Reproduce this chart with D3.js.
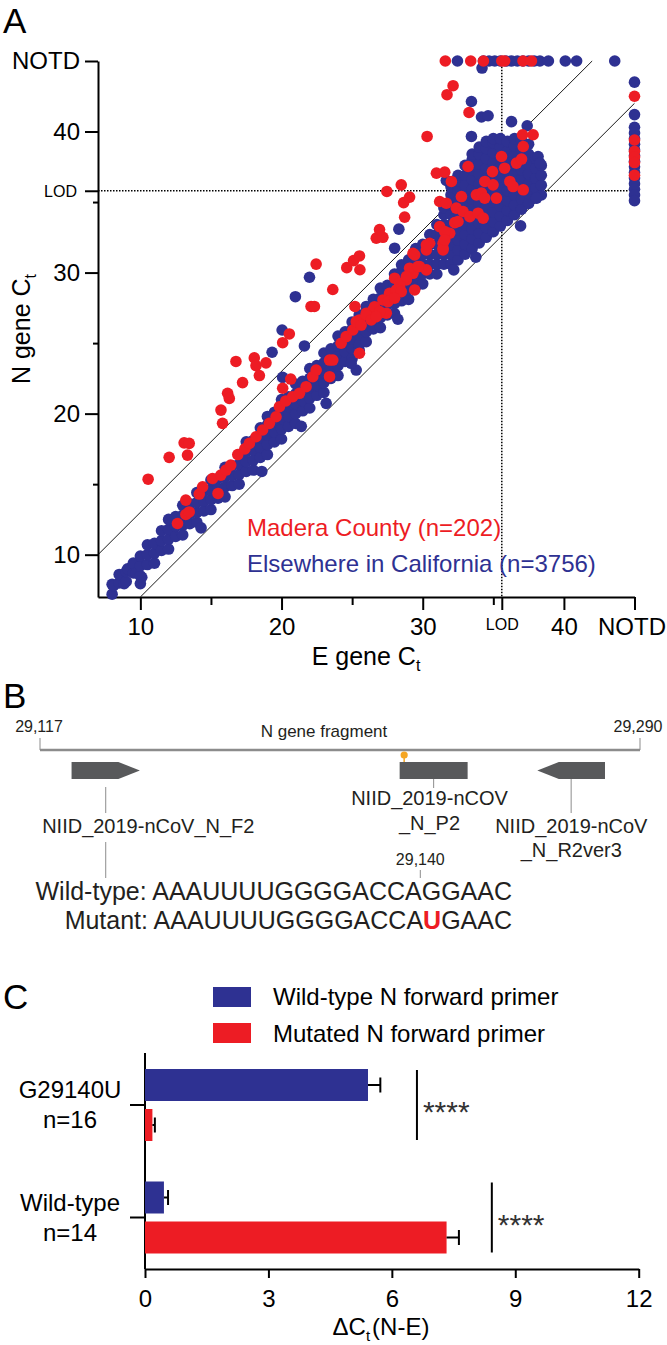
<!DOCTYPE html>
<html><head><meta charset="utf-8">
<script src="https://cdn.jsdelivr.net/npm/d3@7"></script>
<style>
html,body{margin:0;padding:0;background:#fff;}
svg{display:block;font-family:"Liberation Sans",Arial,Helvetica,sans-serif;}
</style></head><body>
<svg id="fig" width="667" height="1345"></svg>
<script>
// ---------------- Panel A data (E gene Ct, N gene Ct); null = not detected (NOTD) ----------------
const NOTD = 45;
const eLOD = 35.6, nLOD = 35.8;
const majorTicks = [10, 20, 30, 40];
const minorTicks = [15, 25, 35];
const diagonals = [[[7, 10], [42, 45]], [[10, 7], [45, 42]]];
const legendA = ["Madera County (n=202)", "Elsewhere in California (n=3756)"];

const elsewhere = [
[8.0,7.2],[8.0,7.9],[8.1,7.8],[8.5,8.0],[8.5,8.6],[8.85,7.95],[9.0,8.1],[9.0,8.8],[9.1,9.0],[9.5,8.7],[9.5,9.4],[9.7,8.7],
[10.0,7.95],[10.1,8.4],[10.0,8.5],[10.0,9.2],[10.0,9.9],
[10.5,9.3],[10.5,10.0],[10.5,10.7],
[11.0,9.4],[11.0,10.1],[11.0,10.8],
[11.5,10.3],[11.5,11.0],[11.5,11.7],
[12.0,10.4],[12.0,11.1],[12.0,11.8],[12.0,12.5],
[12.5,11.3],[12.5,12.0],[12.5,12.7],
[13.0,11.4],[13.0,12.1],[13.0,12.8],[13.0,13.5],
[13.5,12.2],[13.5,12.9],[13.5,13.6],
[14.0,12.3],[14.0,13.0],[14.0,13.7],[14.0,14.4],
[14.5,13.1],[14.5,13.8],[14.5,14.5],
[15.0,13.2],[15.0,13.9],[15.0,14.6],[15.0,15.3],
[15.5,14.0],[15.5,14.7],[15.5,15.4],
[16.0,14.1],[16.0,14.8],[16.0,15.5],[16.0,16.2],
[16.5,14.9],[16.5,15.6],[16.5,16.3],
[17.0,15.0],[17.0,15.7],[17.0,16.4],[17.0,17.1],
[17.5,15.9],[17.5,16.6],[17.5,17.3],[17.5,18.0],
[18.0,16.0],[18.0,16.7],[18.0,17.4],[18.0,18.1],
[18.5,16.9],[18.5,17.6],[18.5,18.3],[18.5,19.0],
[19.0,17.1],[19.0,17.8],[19.0,18.5],[19.0,19.2],[19.0,19.8],
[19.5,18.0],[19.5,18.7],[19.5,19.4],[19.5,20.1],
[20.0,18.2],[20.0,18.9],[20.0,19.6],[20.0,20.3],[20.0,21.0],
[20.5,19.1],[20.5,19.8],[20.5,20.5],[20.5,21.2],
[21.0,19.3],[21.0,20.0],[21.0,20.7],[21.0,21.4],[21.0,22.1],
[21.5,20.2],[21.5,20.9],[21.5,21.6],[21.5,22.3],
[22.0,20.4],[22.0,21.1],[22.0,21.8],[22.0,22.5],[22.0,23.2],
[22.5,21.3],[22.5,22.0],[22.5,22.7],[22.5,23.4],
[23.0,21.5],[23.0,22.2],[23.0,22.9],[23.0,23.6],[23.0,24.3],
[23.5,22.5],[23.5,23.2],[23.5,23.9],[23.5,24.6],
[24.0,22.7],[24.0,23.4],[24.0,24.1],[24.0,24.8],[24.0,25.5],
[24.5,23.7],[24.5,24.4],[24.5,25.1],[24.5,25.8],
[25.0,23.9],[25.0,24.6],[25.0,25.3],[25.0,26.0],[25.0,26.5],
[25.5,24.5],[25.5,24.9],[25.5,25.6],[25.5,26.3],[25.5,27.0],
[26.0,25.1],[26.0,25.8],[26.0,26.5],[26.0,27.2],[26.0,27.6],
[26.5,26.0],[26.5,26.7],[26.5,27.4],[26.5,28.1],
[27.0,26.1],[27.0,26.8],[27.0,27.5],[27.0,28.2],[27.0,28.9],
[27.5,27.0],[27.5,27.7],[27.5,28.4],[27.5,29.1],
[28.0,27.1],[28.0,27.8],[28.0,28.5],[28.0,29.2],[28.0,29.9],
[28.5,28.0],[28.5,28.7],[28.5,29.4],[28.5,30.1],[28.5,30.55],
[29.0,28.1],[29.0,28.8],[29.0,29.5],[29.0,30.2],[29.0,30.9],
[29.5,29.0],[29.5,29.7],[29.5,30.4],[29.5,31.1],[29.5,31.7],
[30.0,29.2],[30.0,29.9],[30.0,30.6],[30.0,31.3],[30.0,32.0],
[30.5,29.9],[30.5,30.6],[30.5,31.3],[30.5,32.0],[30.5,32.7],
[31.0,29.9],[31.0,30.6],[31.0,31.3],[31.0,32.0],[31.0,32.7],[31.0,33.4],
[31.5,30.6],[31.5,31.3],[31.5,32.0],[31.5,32.7],[31.5,33.4],[31.5,34.1],[31.5,34.6],
[32.0,30.6],[32.0,31.3],[32.0,32.0],[32.0,32.7],[32.0,33.4],[32.0,34.1],[32.0,34.8],[32.0,35.5],[32.0,36.1],
[32.5,30.9],[32.5,31.6],[32.5,32.3],[32.5,33.0],[32.5,33.7],[32.5,34.4],[32.5,35.1],[32.5,35.8],[32.5,36.5],[32.5,36.9],
[33.0,31.3],[33.0,32.0],[33.0,32.7],[33.0,33.4],[33.0,34.1],[33.0,34.8],[33.0,35.5],[33.0,36.2],[33.0,36.9],[33.0,37.6],
[33.5,31.7],[33.5,32.4],[33.5,33.1],[33.5,33.8],[33.5,34.5],[33.5,35.2],[33.5,35.9],[33.5,36.6],[33.5,37.3],[33.5,38.0],[33.5,38.4],
[34.0,32.1],[34.0,32.8],[34.0,33.5],[34.0,34.2],[34.0,34.9],[34.0,35.6],[34.0,36.3],[34.0,37.0],[34.0,37.7],[34.0,38.4],[34.0,38.9],
[34.5,32.5],[34.5,33.2],[34.5,33.9],[34.5,34.6],[34.5,35.3],[34.5,36.0],[34.5,36.7],[34.5,37.4],[34.5,38.1],[34.5,38.8],[34.5,39.3],
[35.0,32.9],[35.0,33.6],[35.0,34.3],[35.0,35.0],[35.0,35.7],[35.0,36.4],[35.0,37.1],[35.0,37.8],[35.0,38.5],[35.0,39.2],[35.0,39.5],
[35.5,33.3],[35.5,34.0],[35.5,34.7],[35.5,35.4],[35.5,36.1],[35.5,36.8],[35.5,37.5],[35.5,38.2],[35.5,38.9],[35.5,39.5],
[36.0,33.7],[36.0,34.4],[36.0,35.1],[36.0,35.8],[36.0,36.5],[36.0,37.2],[36.0,37.9],[36.0,38.6],[36.0,39.3],
[36.5,34.1],[36.5,34.8],[36.5,35.5],[36.5,36.2],[36.5,36.9],[36.5,37.6],[36.5,38.3],[36.5,39.0],[36.5,39.5],
[37.0,34.5],[37.0,35.2],[37.0,35.9],[37.0,36.6],[37.0,37.3],[37.0,38.0],[37.0,38.7],[37.0,39.4],
[37.5,34.9],[37.5,35.6],[37.5,36.3],[37.5,37.0],[37.5,37.7],[37.5,38.4],[37.5,39.1],
[38.0,35.3],[38.0,36.0],[38.0,36.7],[38.0,37.4],[38.0,38.1],
[38.4,35.5],[38.4,36.2],[38.4,36.9],[38.4,37.6],
[19.33,24.35],[20.04,25.93],[21.62,24.8],[20.08,22.57],[20.98,28.29],[21.98,29.67],[28.31,33.08],[28.01,31.73],
[28.24,26.69],[32.2,30.19],[33.76,31.09],[36.93,33.31],[38.06,35.28],[36.29,40.7],[37.4,40.41],[34.16,41.03],
[34.63,41.12],[33.45,42.13],[33.45,39.65],[31.67,36.53],[34.2,44.5],[38.17,38.23],[38.3,37.76],[23.16,20.73],
[25.29,23.09],[24.93,23.57],[18.6,15.9],[14.3,11.9],[21.4,19.1],
[32.46,null],[34.3,null],[34.7,null],[35.1,null],[35.5,null],[35.9,null],[36.3,null],[36.7,null],[37.1,null],
[37.5,null],[37.9,null],[38.3,null],[38.9,null],[40.1,null],[40.9,null],[43.6,null],
[null,43.5],[null,41.2],[null,40.3],[null,39.9],[null,39.5],[null,39.1],[null,38.7],[null,38.3],[null,37.9],
[null,37.5],[null,37.1],[null,36.7],[null,36.3],[null,35.9],[null,35.5],[null,35.1]
];

const madera = [
[10.55,15.35],[12.04,16.9],[13.1,17.93],[13.46,17.89],[13.34,17.06],[15.71,20.25],[15.82,19.31],[16.18,21.44],
[16.3,21.08],[16.77,23.7],[17.24,22.2],[18.07,23.95],[18.19,23.4],[18.43,22.7],[18.9,23.6],[20.08,25.03],
[20.55,25.65],[20.08,21.8],[20.65,22.45],[22.09,27.6],[22.33,27.6],[22.45,30.6],[23.63,28.8],[24.62,30.35],
[25.1,30.85],[25.52,31.18],[25.55,30.2],[26.71,32.44],[27.18,32.5],[26.94,33.05],[25.2,27.6],[28.72,33.93],
[28.65,34.96],[29.07,35.35],[27.46,35.75],[28.48,36.22],[30.97,37.05],[31.56,37.12],[32.03,36.46],[30.31,39.65],
[32.15,43.25],[31.72,42.61],[33.28,41.35],[37.07,39.77],[37.82,39.77],
[12.63,12.21],[13.22,12.85],[13.46,13.03],[13.22,13.87],[14.17,14.3],[14.41,14.81],[15.5,14.34],[15.11,15.4],
[15.7,15.64],[16.06,16.0],[16.4,16.35],[16.9,17.1],[17.4,17.5],[17.72,17.89],[18.19,18.36],[18.66,18.84],
[19.14,19.31],[19.61,19.78],[19.85,20.49],[20.3,20.9],[20.79,21.2],[21.27,21.44],[21.74,21.91],[22.21,22.62],
[22.45,23.09],[23.4,22.62],[23.4,23.8],[23.63,23.8],[24.22,24.99],[24.58,25.46],[25.05,25.93],[25.52,26.64],
[26.0,27.12],[26.47,27.35],[26.94,27.12],[25.52,24.28],[27.42,27.12],[27.89,28.3],[28.36,29.01],[28.84,29.48],
[29.31,29.95],[29.78,30.43],[30.26,30.19],[29.43,28.77],[29.31,31.37],[30.26,31.61],[30.49,32.08],[31.44,32.08],
[31.91,32.79],[31.44,31.61],
[35.58,38.23],[36.64,37.76],[37.0,38.05],[37.12,38.94],[34.94,37.16],[35.8,37.4],[34.4,36.46],[34.98,36.22],
[36.17,36.46],[36.4,36.1],[37.12,35.87],[33.21,37.52],[32.74,35.39],[33.8,35.51],[34.16,35.63],[34.39,35.28],
[35.22,35.28],[31.2,35.04],[31.67,34.92],[32.38,34.57],[32.86,34.33],[33.33,33.97],[33.92,34.21],[34.28,33.86],
[32.27,33.54],[32.5,33.62],[31.2,33.26],[31.56,32.91],[30.26,31.96],[31.44,31.73],[31.56,32.32],[29.43,31.25],
[29.07,30.31],[29.66,30.42],[28.01,29.6],[28.36,29.24],[28.84,29.71],[27.65,28.53],[28.13,28.77],[28.48,28.65],
[27.18,28.06],[27.53,27.94],[28.01,28.18],[26.59,27.58],[26.94,27.23],[26.0,27.0],[26.35,26.64],[26.71,26.88],
[25.29,26.52],[25.64,26.28],
[31.6,null],[33.4,null],[34.3,null],[35.6,null],[35.8,null],[37.1,null],[37.7,null],
[null,42.5],[null,39.4],[null,38.6],[null,38.2],[null,37.8],[null,36.9]
];

// ---------------- Panel B data ----------------
const fragment = [29117, 29290];
const fragLabels = ["29,117", "29,290"];
const featureNames = ["NIID_2019-nCoV_N_F2", "NIID_2019-nCOV_N_P2", "NIID_2019-nCoV_N_R2ver3"];
const featureStart = [29126.1, 29220.7, 29260.4];
const featureEnd = [29145.8, 29240.3, 29279.9];
const featureDir = [1, 0, -1];
const snpSite = 29222;
const seqWild = "AAAUUUUGGGGACCAGGAAC";
const seqMutPre = "AAAUUUUGGGGACCA", seqMutBase = "U", seqMutPost = "GAAC";

// ---------------- Panel C data ----------------
const groups = ["G29140U", "Wild-type"];
const groupN = ["n=16", "n=14"];
const primerSeries = ["Wild-type N forward primer", "Mutated N forward primer"];
const meanWtPrimer = [5.42, 0.46];
const meanMutPrimer = [0.18, 7.33];
const semWtPrimer = [0.30, 0.10];
const semMutPrimer = [0.06, 0.30];
const sigLabels = ["****", "****"];
const sigPos = [6.61, 8.43];
const dctTicks = [0, 3, 6, 9, 12];

// ================= drawing =================
const RED = "#ED1C24", BLUE = "#2E3192", INK = "#231F20";
const svg = d3.select("#fig");

function subLabel(sel, main, sub, after, subfs, shift) {
  sel.append("tspan").text(main);
  sel.append("tspan").attr("font-size", subfs).attr("dy", shift).text(sub);
  if (after) sel.append("tspan").attr("dy", -shift).attr("dx", 2).text(after);
}

// ----- Panel A -----
const x = d3.scaleLinear().domain([7, 45]).range([98, 634.5]);
const y = d3.scaleLinear().domain([7, 45]).range([597, 61]);
const A = svg.append("g");
A.append("text").attr("x", 3).attr("y", 33).attr("font-size", 35).text("A");

const lab = d => d === NOTD ? "NOTD" : (d === eLOD || d === nLOD) ? "LOD" : d;
const gx = A.append("g").attr("transform", "translate(0,597)")
  .call(d3.axisBottom(x).tickValues([...majorTicks, eLOD, NOTD]).tickSize(13).tickSizeOuter(0).tickFormat(lab));
gx.attr("font-size", null).attr("font-family", null);
gx.select(".domain").attr("stroke-width", 2);
gx.selectAll(".tick line").attr("stroke-width", 2);
gx.selectAll(".tick text").attr("dy", null).attr("y", 38).attr("font-size", 24).attr("fill", "#000");
gx.selectAll(".tick text").filter(d => d === eLOD).attr("font-size", 16).attr("y", 33);
gx.selectAll(".tick text").filter(d => d === NOTD).attr("dx", -3);
const gxm = A.append("g").attr("transform", "translate(0,597)")
  .call(d3.axisBottom(x).tickValues(minorTicks).tickSize(8).tickFormat(""));
gxm.select(".domain").remove();
gxm.selectAll(".tick line").attr("stroke-width", 2);

const gy = A.append("g").attr("transform", "translate(98,0)")
  .call(d3.axisLeft(y).tickValues([...majorTicks, nLOD, NOTD]).tickSize(13).tickPadding(5).tickSizeOuter(0).tickFormat(lab));
gy.attr("font-size", null).attr("font-family", null);
gy.select(".domain").attr("stroke-width", 2);
gy.selectAll(".tick line").attr("stroke-width", 2);
gy.selectAll(".tick text").attr("dy", "0.33em").attr("font-size", 24).attr("fill", "#000");
gy.selectAll(".tick text").filter(d => d === nLOD).attr("font-size", 16).attr("x", -21);
const gym = A.append("g").attr("transform", "translate(98,0)")
  .call(d3.axisLeft(y).tickValues(minorTicks).tickSize(5).tickFormat(""));
gym.select(".domain").remove();
gym.selectAll(".tick line").attr("stroke-width", 2);

const line = d3.line().x(d => x(d[0])).y(d => y(d[1]));
A.selectAll("path.diag").data(diagonals).join("path").attr("class", "diag")
  .attr("d", line).attr("stroke", "#000").attr("stroke-width", 0.9).attr("fill", "none");
A.append("path").attr("d", line([[eLOD, 44.6], [eLOD, 7]]))
  .attr("stroke", "#000").attr("stroke-width", 1.5).attr("stroke-dasharray", "1.5,1.5").attr("fill", "none");
A.append("path").attr("d", line([[7, nLOD], [44.6, nLOD]]))
  .attr("stroke", "#000").attr("stroke-width", 1.5).attr("stroke-dasharray", "1.5,1.5").attr("fill", "none");

const px = d => x(d[0] == null ? NOTD : d[0]);
const py = d => y(d[1] == null ? NOTD : d[1]);
A.append("g").selectAll("circle").data(elsewhere).join("circle")
  .attr("cx", px).attr("cy", py).attr("r", 5.8).attr("fill", BLUE);
A.append("g").selectAll("circle").data(madera).join("circle")
  .attr("cx", px).attr("cy", py).attr("r", 5.8).attr("fill", RED);

A.append("text").attr("x", 247).attr("y", 536).attr("font-size", 24).attr("fill", RED).text(legendA[0]);
A.append("text").attr("x", 247).attr("y", 572).attr("font-size", 24).attr("fill", BLUE).text(legendA[1]);

A.append("text").attr("transform", "translate(30,329) rotate(-90)").attr("text-anchor", "middle")
  .attr("font-size", 25).call(s => subLabel(s, "N gene C", "t", null, 16, 6));
A.append("text").attr("transform", "translate(366,665)").attr("text-anchor", "middle")
  .attr("font-size", 25).call(s => subLabel(s, "E gene C", "t", null, 16, 6));

// ----- Panel B -----
const B = svg.append("g").attr("fill", INK);
B.append("text").attr("x", 3).attr("y", 708).attr("font-size", 35).attr("fill", "#000").text("B");
const gpos = d3.scaleLinear().domain(fragment).range([40, 640]);
B.append("line").attr("x1", gpos(fragment[0])).attr("x2", gpos(fragment[1])).attr("y1", 750).attr("y2", 750)
  .attr("stroke", "#8C8C8C").attr("stroke-width", 2.5);
fragment.forEach((p, i) => {
  B.append("line").attr("x1", gpos(p)).attr("x2", gpos(p)).attr("y1", 738).attr("y2", 750)
    .attr("stroke", "#8C8C8C").attr("stroke-width", 1);
  B.append("text").attr("x", gpos(p) + (i === 0 ? -1 : -2)).attr("y", 732).attr("font-size", 16)
    .attr("text-anchor", "middle").text(fragLabels[i]);
});
B.append("text").attr("x", 324).attr("y", 737).attr("font-size", 17).attr("text-anchor", "middle").text("N gene fragment");

const fTop = 762, fBot = 779, fMid = (fTop + fBot) / 2, head = 21.5;
featureNames.forEach((n, i) => {
  const a = gpos(featureStart[i]), b = gpos(featureEnd[i]);
  let pts;
  if (featureDir[i] === 1) pts = [[a, fTop], [b - head, fTop], [b, fMid], [b - head, fBot], [a, fBot]];
  else if (featureDir[i] === -1) pts = [[b, fTop], [a + head, fTop], [a, fMid], [a + head, fBot], [b, fBot]];
  else pts = [[a, fTop], [b, fTop], [b, fBot], [a, fBot]];
  B.append("polygon").attr("points", pts.map(p => p.join(",")).join(" ")).attr("fill", "#58595B");
});
B.append("line").attr("x1", gpos(snpSite)).attr("x2", gpos(snpSite)).attr("y1", 755).attr("y2", fTop)
  .attr("stroke", "#F5A623").attr("stroke-width", 1.5);
B.append("circle").attr("cx", gpos(snpSite)).attr("cy", 755).attr("r", 3.6).attr("fill", "#F5A623");

const cF = gpos((featureStart[0] + featureEnd[0]) / 2);
const cP = gpos((featureStart[1] + featureEnd[1]) / 2);
const cR = gpos((featureStart[2] + featureEnd[2]) / 2);
const gl = (x1, y1, y2) => B.append("line").attr("x1", x1).attr("x2", x1).attr("y1", y1).attr("y2", y2)
  .attr("stroke", "#8C8C8C").attr("stroke-width", 1);
gl(cF, 787, 813); gl(cF, 842, 878); gl(cP, 779, 788); gl(cR, 779, 813); gl(420.3, 870, 878);
const bt = (tx, ty, t, fs) => B.append("text").attr("x", tx).attr("y", ty).attr("font-size", fs || 20)
  .attr("text-anchor", "middle").text(t);
bt(148.3, 833, featureNames[0]);
bt(429.5, 805, "NIID_2019-nCOV");
bt(429.5, 830, "_N_P2");
bt(571.3, 833, "NIID_2019-nCoV");
bt(571.3, 857, "_N_R2ver3");
bt(420.3, 865, "29,140", 16);
B.append("text").attr("x", 512).attr("y", 900).attr("font-size", 25).attr("text-anchor", "end")
  .text("Wild-type: " + seqWild);
B.append("text").attr("x", 512).attr("y", 929).attr("font-size", 25).attr("text-anchor", "end")
  .call(s => {
    s.append("tspan").text("Mutant: " + seqMutPre);
    s.append("tspan").attr("fill", RED).attr("font-weight", "bold").text(seqMutBase);
    s.append("tspan").text(seqMutPost);
  });

// ----- Panel C -----
const C = svg.append("g");
C.append("text").attr("x", 3).attr("y", 1009).attr("font-size", 35).text("C");
[BLUE, RED].forEach((c, i) => {
  C.append("rect").attr("x", 213).attr("y", 987 + i * 36).attr("width", 38).attr("height", 20).attr("fill", c);
  C.append("text").attr("x", 273).attr("y", 1005 + i * 37).attr("font-size", 24).text(primerSeries[i]);
});
const xc = d3.scaleLinear().domain([0, 12]).range([145, 638.7]);
const yg = d3.scalePoint().domain(groups).range([1105, 1217.5]);
const ys = d3.scaleBand().domain([0, 1]).range([-36, 36]).paddingInner(0.2);
const gxc = C.append("g").attr("transform", "translate(0,1269)")
  .call(d3.axisBottom(xc).tickValues(dctTicks).tickSize(9).tickSizeOuter(0));
gxc.attr("font-size", null).attr("font-family", null);
gxc.select(".domain").attr("stroke-width", 2);
gxc.selectAll(".tick line").attr("stroke-width", 2);
gxc.selectAll(".tick text").attr("dy", null).attr("y", 38).attr("font-size", 24).attr("fill", "#000");
C.append("line").attr("x1", 145).attr("x2", 145).attr("y1", 1053).attr("y2", 1269).attr("stroke", "#000").attr("stroke-width", 2);

const rows = [];
groups.forEach((g, i) => {
  rows.push({ g, s: 0, v: meanWtPrimer[i], e: semWtPrimer[i], c: BLUE });
  rows.push({ g, s: 1, v: meanMutPrimer[i], e: semMutPrimer[i], c: RED });
});
C.selectAll("rect.bar").data(rows).join("rect").attr("class", "bar")
  .attr("x", xc(0)).attr("y", d => yg(d.g) + ys(d.s)).attr("width", d => xc(d.v) - xc(0))
  .attr("height", ys.bandwidth()).attr("fill", d => d.c);
rows.forEach(d => {
  const cy = yg(d.g) + ys(d.s) + ys.bandwidth() / 2;
  C.append("line").attr("x1", xc(d.v)).attr("x2", xc(d.v + d.e)).attr("y1", cy).attr("y2", cy)
    .attr("stroke", "#000").attr("stroke-width", 2);
  C.append("line").attr("x1", xc(d.v + d.e)).attr("x2", xc(d.v + d.e)).attr("y1", cy - 7.5).attr("y2", cy + 7.5)
    .attr("stroke", "#000").attr("stroke-width", 2);
});
groups.forEach((g, i) => {
  const cy = yg(g);
  C.append("line").attr("x1", 130).attr("x2", 145).attr("y1", cy).attr("y2", cy).attr("stroke", "#000").attr("stroke-width", 2);
  C.append("text").attr("x", 70).attr("y", cy - 7).attr("font-size", 24).attr("text-anchor", "middle").text(g);
  C.append("text").attr("x", 70).attr("y", cy + 23).attr("font-size", 24).attr("text-anchor", "middle").text(groupN[i]);
  C.append("line").attr("x1", xc(sigPos[i])).attr("x2", xc(sigPos[i])).attr("y1", cy - 35).attr("y2", cy + 35)
    .attr("stroke", "#000").attr("stroke-width", 2);
  C.append("text").attr("x", xc(sigPos[i]) + 6).attr("y", cy + 17).attr("font-size", 30).attr("fill", "#333").text(sigLabels[i]);
});
C.append("text").attr("x", 381).attr("y", 1335).attr("font-size", 24).attr("text-anchor", "middle")
  .call(s => subLabel(s, "\u0394C", "t", "(N-E)", 15, 6));
</script></body></html>
